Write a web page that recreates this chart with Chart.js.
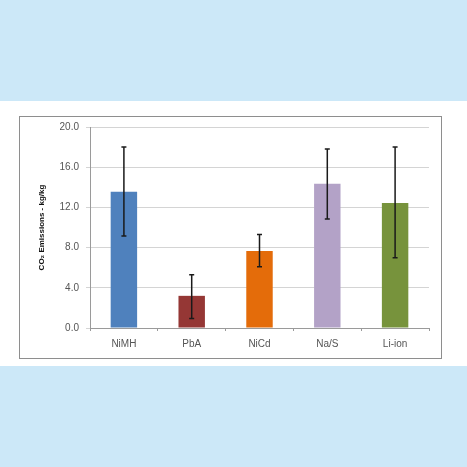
<!DOCTYPE html>
<html>
<head>
<meta charset="utf-8">
<script src="https://cdn.jsdelivr.net/npm/chart.js@4.4.1/dist/chart.umd.min.js"></script>
<style>
  html, body { margin: 0; padding: 0; }
  body { width: 467px; height: 467px; background: #cce8f8; position: relative; overflow: hidden; }
  .band { position: absolute; left: 0; top: 101px; width: 467px; height: 265px; background: #ffffff; }
  .box { position: absolute; left: 19px; top: 116px; width: 421px; height: 241px; border: 1.5px solid #8e8e8e; background: #fff; overflow: hidden; }
  canvas { display: block; margin-top: -3px; }
</style>
</head>
<body>
<div class="band"></div>
<div class="box"><canvas id="chart" width="421" height="244"></canvas></div>
<script>
// battery types and CO2 emissions (kg/kg)
const batteries = ['NiMH', 'PbA', 'NiCd', 'Na/S', 'Li-ion'];
const emissions = [13.55, 3.2, 7.65, 14.35, 12.45];
const errLow = [9.15, 0.95, 6.1, 10.85, 7.0];
const errHigh = [18.0, 5.3, 9.3, 17.8, 18.0];
const barColors = ['#4f81bd', '#953735', '#e46c0a', '#b3a2c7', '#77933c'];

// whiskers drawn from errLow / errHigh through the chart scales
const errorBars = {
  id: 'errorBars',
  afterDatasetsDraw(chart) {
    const ctx = chart.ctx;
    const y = chart.scales.y;
    const meta = chart.getDatasetMeta(0);
    ctx.save();
    ctx.strokeStyle = '#1a1a1a';
    ctx.lineWidth = 1.5;
    meta.data.forEach((bar, i) => {
      const x = bar.x;
      const top = y.getPixelForValue(errHigh[i]);
      const bot = y.getPixelForValue(errLow[i]);
      ctx.beginPath();
      ctx.moveTo(x, top); ctx.lineTo(x, bot);
      ctx.moveTo(x - 2.5, top); ctx.lineTo(x + 2.5, top);
      ctx.moveTo(x - 2.5, bot); ctx.lineTo(x + 2.5, bot);
      ctx.stroke();
    });
    ctx.restore();
  }
};

const ctx = document.getElementById('chart');
new Chart(ctx, {
  type: 'bar',
  data: {
    labels: batteries,
    datasets: [{
      data: emissions,
      backgroundColor: barColors,
      borderWidth: 0,
      barPercentage: 1,
      categoryPercentage: 0.39
    }]
  },
  options: {
    responsive: false,
    animation: false,
    devicePixelRatio: 1,
    layout: { padding: { top: 7, right: 12, left: 0, bottom: 0 } },
    plugins: {
      legend: { display: false },
      tooltip: { enabled: false }
    },
    scales: {
      x: {
        grid: { display: true, drawOnChartArea: false, offset: true, tickLength: 3, color: '#9a9a9a' },
        border: { color: '#9a9a9a', width: 1 },
        ticks: { color: '#555', font: { family: 'Liberation Sans', size: 10 }, padding: 7 },
        afterFit(scale) { scale.height = 30; }
      },
      y: {
        min: 0,
        max: 20,
        ticks: {
          stepSize: 4,
          color: '#555',
          font: { family: 'Liberation Sans', size: 10 },
          padding: 7,
          callback: v => v.toFixed(1)
        },
        grid: { color: '#d4d4d4', tickLength: 4 },
        border: { color: '#9a9a9a', width: 1 },
        title: {
          display: true,
          text: 'CO\u2082 Emissions - kg/kg',
          color: '#111',
          font: { family: 'Liberation Sans', size: 8, weight: 'bold' },
          padding: { top: 17, bottom: 4 }
        },
        afterFit(scale) { scale.width = 70; }
      }
    }
  },
  plugins: [errorBars]
});
</script>
</body>
</html>
